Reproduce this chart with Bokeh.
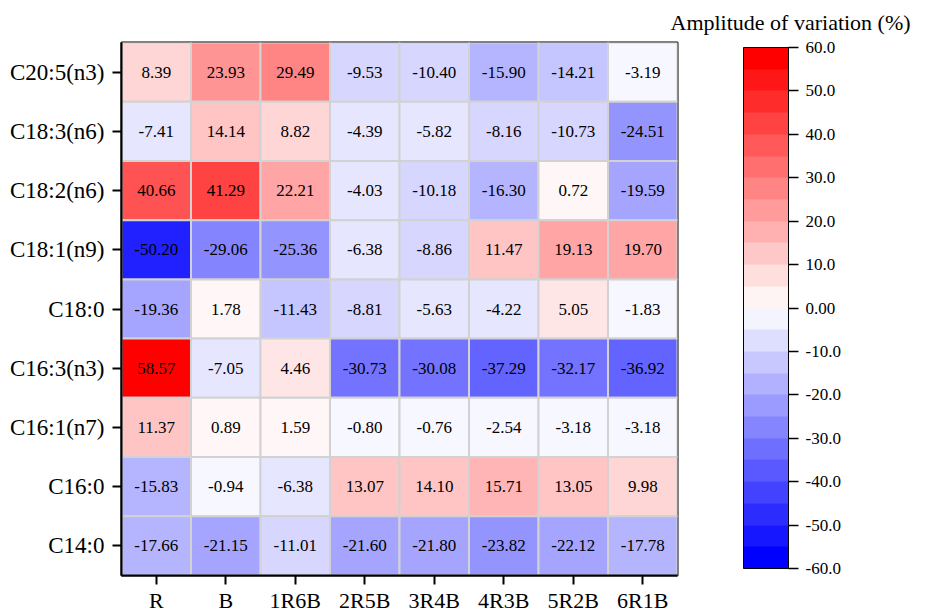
from bokeh.plotting import figure
from bokeh.models import (ColumnDataSource, FactorRange, LinearColorMapper, ColorBar,
                          FixedTicker, PrintfTickFormatter)
from bokeh.transform import transform
from bokeh.core.properties import value
from bokeh.embed import file_html
from bokeh.resources import INLINE

# ---------------- data ----------------
treatments = ["R", "B", "1R6B", "2R5B", "3R4B", "4R3B", "5R2B", "6R1B"]
fatty_acids = ["C20:5(n3)", "C18:3(n6)", "C18:2(n6)", "C18:1(n9)", "C18:0",
               "C16:3(n3)", "C16:1(n7)", "C16:0", "C14:0"]

c20_5_n3 = [8.39, 23.93, 29.49, -9.53, -10.40, -15.90, -14.21, -3.19]
c18_3_n6 = [-7.41, 14.14, 8.82, -4.39, -5.82, -8.16, -10.73, -24.51]
c18_2_n6 = [40.66, 41.29, 22.21, -4.03, -10.18, -16.30, 0.72, -19.59]
c18_1_n9 = [-50.20, -29.06, -25.36, -6.38, -8.86, 11.47, 19.13, 19.70]
c18_0 = [-19.36, 1.78, -11.43, -8.81, -5.63, -4.22, 5.05, -1.83]
c16_3_n3 = [58.57, -7.05, 4.46, -30.73, -30.08, -37.29, -32.17, -36.92]
c16_1_n7 = [11.37, 0.89, 1.59, -0.80, -0.76, -2.54, -3.18, -3.18]
c16_0 = [-15.83, -0.94, -6.38, 13.07, 14.10, 15.71, 13.05, 9.98]
c14_0 = [-17.66, -21.15, -11.01, -21.60, -21.80, -23.82, -22.12, -17.78]

rows = [c20_5_n3, c18_3_n6, c18_2_n6, c18_1_n9, c18_0, c16_3_n3, c16_1_n7, c16_0, c14_0]

colorbar_ticks = [-60, -50, -40, -30, -20, -10, 0, 10, 20, 30, 40, 50, 60]
colorbar_title = "Amplitude of variation (%)"

# ---------------- palette (blue - white - red) ----------------
def blend(t):
    if t < 0.5:
        f = t / 0.5
        r = g = round(255 * f)
        b = 255
    else:
        f = (1 - t) / 0.5
        r = 255
        g = b = round(255 * f)
    return "#%02x%02x%02x" % (r, g, b)

pal_bar = [blend(i / 23) for i in range(24)]
pal_cells = [blend(i / 31) for i in range(32)]

# ---------------- source ----------------
xs, ys, vals, labels = [], [], [], []
for fa, row in zip(fatty_acids, rows):
    for tr, v in zip(treatments, row):
        xs.append(tr)
        ys.append(fa)
        vals.append(v)
        labels.append("%.2f" % v)
src = ColumnDataSource(dict(x=xs, y=ys, v=vals, label=labels))

FONT = "Liberation Serif"

p = figure(
    x_range=FactorRange(factors=treatments),
    y_range=FactorRange(factors=list(reversed(fatty_acids))),
    width=920, height=614,
    frame_width=556, frame_height=533,
    min_border_left=121, min_border_top=42, min_border_right=243, min_border_bottom=39,
    output_backend="svg", toolbar_location=None,
    title=colorbar_title,
)
p.x_range.range_padding = 0
p.y_range.range_padding = 0

p.title.align = "left"
p.title.offset = 549
p.title.standoff = 15
p.title.text_font = FONT
p.title.text_font_size = "22px"
p.title.text_font_style = "normal"
p.title.text_color = "black"

cell_mapper = LinearColorMapper(palette=pal_cells, low=-60, high=60)
bar_mapper = LinearColorMapper(palette=pal_bar, low=-60, high=60)

p.rect(x="x", y="y", width=1, height=1, source=src,
       fill_color=transform("v", cell_mapper), line_color="#d2d2d2", line_width=2)
p.text(x="x", y="y", text="label", source=src, text_align="center",
       text_baseline="middle", text_font=value(FONT), text_font_size="17px",
       text_color="black")

p.grid.visible = False
p.outline_line_color = "black"
p.outline_line_width = 2

for ax in (p.xaxis[0], p.yaxis[0]):
    ax.axis_line_color = "black"
    ax.axis_line_width = 2
    ax.major_tick_line_color = "black"
    ax.major_tick_line_width = 2
    ax.major_tick_in = 0
    ax.major_tick_out = 9
    ax.minor_tick_line_color = None
    ax.major_label_text_font = FONT
    ax.major_label_text_color = "black"
p.xaxis.major_label_text_font_size = "22px"
p.yaxis.major_label_text_font_size = "23px"
p.xaxis.major_label_standoff = 3
p.yaxis.major_label_standoff = 8

cb = ColorBar(
    color_mapper=bar_mapper,
    ticker=FixedTicker(ticks=colorbar_ticks),
    formatter=PrintfTickFormatter(format="%.1f"),
    major_label_overrides={0: "0.00"},
    width=45, height=521,
    location=(622, 7),
    padding=0,
    bar_line_color="black", bar_line_width=1,
    major_tick_line_color="black", major_tick_line_width=1.5,
    major_tick_in=0, major_tick_out=10,
    minor_tick_line_color=None,
    label_standoff=7,
    major_label_text_font=FONT, major_label_text_font_size="17px",
    major_label_text_color="black",
    background_fill_alpha=0, border_line_color=None,
)
p.add_layout(cb, "center")

open("out.html", "w").write(file_html(p, INLINE))
